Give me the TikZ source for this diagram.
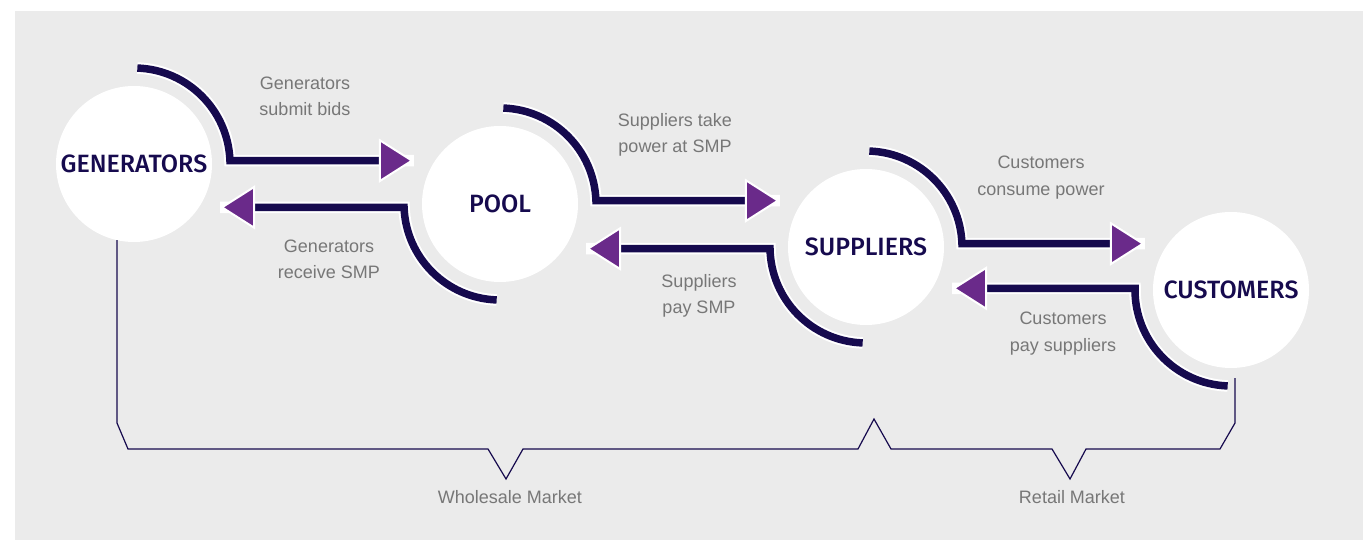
\documentclass[tikz,border=0pt]{standalone}
\usepackage{fontspec}
\setmainfont{Liberation Sans}
\newfontfamily\nodefont{Fira Sans}[UprightFont={* Medium}]
\usetikzlibrary{arrows.meta}
\definecolor{panelgray}{HTML}{EBEBEB}
\definecolor{marketnavy}{HTML}{160A4E}
\definecolor{tippurple}{HTML}{6A2A8A}
\definecolor{notegray}{HTML}{777777}
\tikzset{
  market/.style={circle, fill=white, minimum size=156pt, inner sep=0pt,
    text=marketnavy, font=\nodefont\fontsize{25}{25}\selectfont},
  flow/.style={draw=marketnavy, line width=7.5pt, line join=miter,
    preaction={draw=white, line width=11.5pt, arrows=-},
    -{Triangle[length=35pt, width=44pt, color=white, fill=tippurple, line width=2pt]},
    shorten >=8pt},
  note/.style={align=center, text=notegray, font=\fontsize{18}{26.5}\selectfont},
  bracket/.style={draw=marketnavy, line width=1.2pt}
}
\begin{document}
\begin{tikzpicture}[x=1pt, y=1pt]
      \useasboundingbox (0,0) rectangle (1363,540);
      \fill[panelgray] (15,0) rectangle (1363,529);

      \node[market] (gen) at (134,376) {GENERATORS};
      \node[market] (pool) at (500,336) {POOL};
      \node[market] (supp) at (866,293) {SUPPLIERS};
      \node[market] (cust) at (1231,250) {CUSTOMERS};

      % forward flows, upper arcs
      \draw[flow] ([shift={(88:96)}]gen.center) arc[start angle=88, end angle=2, radius=96]
        coordinate (g1) -- (g1 -| pool.west);
      \draw[flow] ([shift={(88:96)}]pool.center) arc[start angle=88, end angle=2, radius=96]
        coordinate (p1) -- (p1 -| supp.west);
      \draw[flow] ([shift={(88:96)}]supp.center) arc[start angle=88, end angle=2, radius=96]
        coordinate (s1) -- (s1 -| cust.west);

      % payments back, lower arcs
      \draw[flow] ([shift={(268:96)}]pool.center) arc[start angle=268, end angle=182, radius=96]
        coordinate (p2) -- (p2 -| gen.east);
      \draw[flow] ([shift={(268:96)}]supp.center) arc[start angle=268, end angle=181, radius=96]
        coordinate (s2) -- (s2 -| pool.east);
      \draw[flow] ([shift={(268:96)}]cust.center) arc[start angle=268, end angle=179, radius=96]
        coordinate (c2) -- (c2 -| supp.east);

      \node[note] (bids) at (305,443.5) {Generators\\submit bids};
      \node[note] (recv) at (329,280.5) {Generators\\receive SMP};
      \node[note] (take) at (675,405) {Suppliers take\\power at SMP};
      \node[note] (paysmp) at (699,244) {Suppliers\\pay SMP};
      \node[note] (consume) at (1041,362.5) {Customers\\consume power};
      \node[note] (paysupp) at (1063,206.5) {Customers\\pay suppliers};

      % market brackets
      \draw[bracket] ([xshift=-17pt, yshift=2pt]gen.south) -- (117,117) -- (128,91)
        -- (488,91) -- (506,61) coordinate (wtip) -- (523,91) -- (858,91) -- (874,121)
        -- (891,91) -- (1052,91) -- (1070,61) coordinate (rtip) -- (1086,91) -- (1220,91)
        -- (1235,117) -- ([xshift=4pt, yshift=-10pt]cust.south);
      \node[note] (wholesale) at ([xshift=4pt, yshift=-18pt]wtip) {Wholesale Market};
      \node[note] (retail) at ([xshift=2pt, yshift=-18pt]rtip) {Retail Market};

    \end{tikzpicture}
\end{document}
